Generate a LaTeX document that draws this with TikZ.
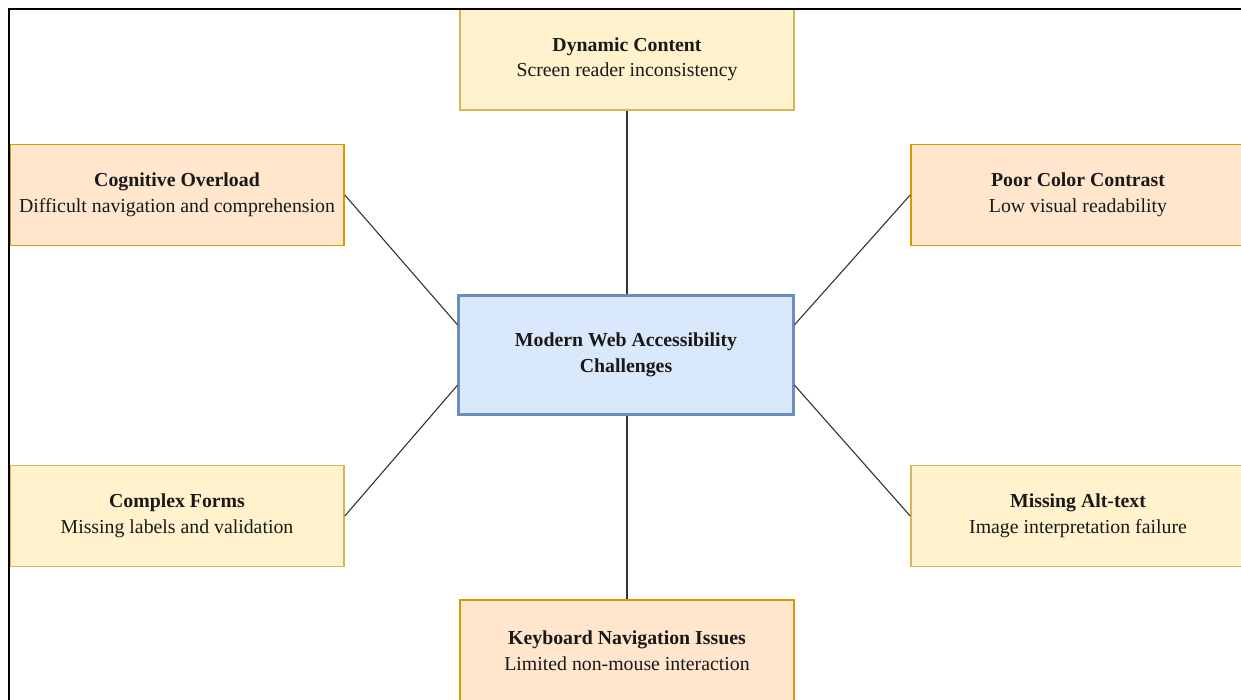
\documentclass[tikz,border=0pt]{standalone}
\usepackage{fontspec}
\setmainfont{Liberation Serif}
\usetikzlibrary{calc}
\definecolor{ylwfill}{HTML}{FFF2CC}
\definecolor{ylwline}{HTML}{D6B656}
\definecolor{orgfill}{HTML}{FFE6CC}
\definecolor{orgline}{HTML}{D79B00}
\definecolor{hubfill}{HTML}{DAE8FC}
\definecolor{hubline}{HTML}{6C8EBF}
\definecolor{linkgray}{HTML}{333333}
\begin{document}
\begin{tikzpicture}[x=1pt,y=-1pt,
  every node/.style={font=\fontsize{19.8}{25.5}\selectfont,align=center,text=black!90},
  ylwbox/.style={draw=ylwline,fill=ylwfill,line width=1.6pt,minimum width=334pt,minimum height=101pt},
  orgbox/.style={draw=orgline,fill=orgfill,line width=1.6pt,minimum width=334pt,minimum height=101pt},
  hubbox/.style={draw=hubline,fill=hubfill,line width=2.2pt,minimum width=335pt,minimum height=119pt},
  link/.style={draw=linkgray,line width=1.1pt}]
  \useasboundingbox (0,0) rectangle (1241,699);
  % central topic
  \node[hubbox] (hub) at (626,355) {\textbf{Modern Web Accessibility}\\\textbf{Challenges}};
  % challenges around it
  \node[ylwbox] (dyn) at (627,59.5) {\textbf{Dynamic Content}\\Screen reader inconsistency};
  \node[orgbox] (cog) at (177,195) {\textbf{Cognitive Overload}\\Difficult navigation and comprehension};
  \node[orgbox] (contrast) at (1078,195) {\textbf{Poor Color Contrast}\\Low visual readability};
  \node[ylwbox] (forms) at (177,516) {\textbf{Complex Forms}\\Missing labels and validation};
  \node[ylwbox] (alt) at (1078,516) {\textbf{Missing Alt-text}\\Image interpretation failure};
  \node[orgbox] (keys) at (627,650.5) {\textbf{Keyboard Navigation Issues}\\Limited non-mouse interaction};
  % connectors
  \draw[link] (dyn.south) -- (dyn.south |- hub.north);
  \draw[link] (keys.north) -- (keys.north |- hub.south);
  \draw[link] (cog.east) -- ($(hub.north west)!0.25!(hub.south west)$);
  \draw[link] (forms.east) -- ($(hub.north west)!0.75!(hub.south west)$);
  \draw[link] (contrast.west) -- ($(hub.north east)!0.25!(hub.south east)$);
  \draw[link] (alt.west) -- ($(hub.north east)!0.75!(hub.south east)$);
  % outer frame
  \draw[line width=2.2pt] (9,9) rectangle (1290,750);
\end{tikzpicture}
\end{document}
